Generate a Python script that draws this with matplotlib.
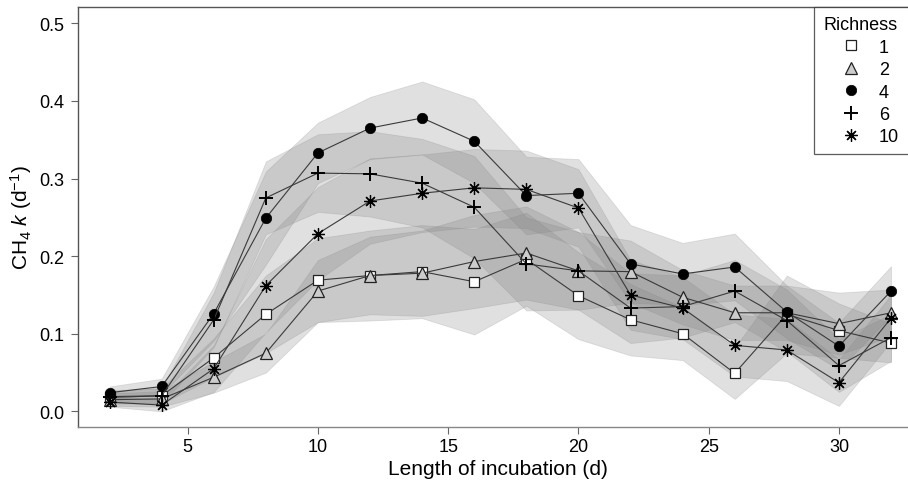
import numpy as np
import matplotlib
matplotlib.use("Agg")
import matplotlib.pyplot as plt
from matplotlib.lines import Line2D

plt.rcParams['font.family'] = ['Liberation Sans', 'DejaVu Sans']
plt.rcParams['mathtext.fontset'] = 'custom'
plt.rcParams['mathtext.rm'] = 'Liberation Sans'
plt.rcParams['mathtext.it'] = 'Liberation Sans:italic'

days = [2, 4, 6, 8, 10, 12, 14, 16, 18, 20, 22, 24, 26, 28, 30, 32]
richness_labels = ['1', '2', '4', '6', '10']

r1 = [0.018, 0.020, 0.069, 0.125, 0.169, 0.175, 0.180, 0.167, 0.196, 0.149, 0.118, 0.100, 0.049, 0.125, 0.104, 0.088]
r2 = [0.015, 0.016, 0.044, 0.075, 0.155, 0.175, 0.178, 0.193, 0.204, 0.181, 0.180, 0.147, 0.127, 0.127, 0.113, 0.127]
r4 = [0.024, 0.032, 0.126, 0.249, 0.333, 0.365, 0.378, 0.348, 0.278, 0.281, 0.190, 0.177, 0.186, 0.128, 0.084, 0.155]
r6 = [0.019, 0.020, 0.118, 0.275, 0.307, 0.306, 0.294, 0.263, 0.190, 0.181, 0.133, 0.135, 0.155, 0.117, 0.059, 0.095]
r10 = [0.012, 0.008, 0.055, 0.162, 0.229, 0.271, 0.281, 0.288, 0.286, 0.262, 0.150, 0.133, 0.085, 0.079, 0.037, 0.120]

# half-widths of the shaded error bands
hw1 = [0.008, 0.010, 0.025, 0.050, 0.054, 0.058, 0.060, 0.068, 0.060, 0.056, 0.046, 0.034, 0.033, 0.050, 0.035, 0.025]
hw2 = [0.008, 0.010, 0.020, 0.025, 0.040, 0.050, 0.055, 0.060, 0.060, 0.050, 0.040, 0.035, 0.035, 0.035, 0.040, 0.030]
hw4 = [0.008, 0.010, 0.035, 0.060, 0.039, 0.040, 0.047, 0.054, 0.050, 0.044, 0.050, 0.040, 0.043, 0.034, 0.030, 0.032]
hw6 = [0.008, 0.010, 0.035, 0.047, 0.050, 0.055, 0.057, 0.066, 0.060, 0.050, 0.045, 0.040, 0.040, 0.040, 0.034, 0.030]
hw10 = [0.006, 0.008, 0.030, 0.060, 0.060, 0.055, 0.050, 0.050, 0.050, 0.050, 0.045, 0.040, 0.040, 0.040, 0.030, 0.030]

series = [r1, r2, r4, r6, r10]
halfw = [hw1, hw2, hw4, hw6, hw10]
styles = [
    dict(marker='s', markersize=6.5, markerfacecolor='white', markeredgecolor='#222222', markeredgewidth=0.9),
    dict(marker='^', markersize=8.5, markerfacecolor='#cccccc', markeredgecolor='#222222', markeredgewidth=0.9),
    dict(marker='o', markersize=7.5, markerfacecolor='black', markeredgecolor='black', markeredgewidth=0.5),
    dict(marker='+', markersize=10, markeredgecolor='black', markeredgewidth=1.4),
    dict(marker=(8, 2, 0), markersize=9, markeredgecolor='black', markeredgewidth=0.9),
]

fig = plt.figure(figsize=(9.08, 4.81), dpi=100)
ax = fig.add_axes([78.3 / 908, 1 - 427.7 / 481, 1 - 78.3 / 908 + 0.01, (427.7 - 8.3) / 481])

x = np.array(days)
for vals, hw in zip(series, halfw):
    v = np.array(vals)
    h = np.array(hw)
    ax.fill_between(x, v - h, v + h, facecolor='#808080', alpha=0.24,
                    edgecolor='#8a8a8a', linewidth=0.6, zorder=1)

for vals, st in zip(series, styles):
    ax.plot(x, vals, color='#3a3a3a', linewidth=0.8, zorder=3, **st)

ax.set_xlim(0.8, 33.0)
ax.set_ylim(-0.0198, 0.5206)
ax.set_xticks([5, 10, 15, 20, 25, 30])
ax.set_yticks([0.0, 0.1, 0.2, 0.3, 0.4, 0.5])
ax.set_yticklabels(['0.0', '0.1', '0.2', '0.3', '0.4', '0.5'])
ax.tick_params(axis='both', direction='out', length=5, width=0.8, color='#666666',
               labelsize=13, pad=3)
ax.tick_params(axis='y', pad=5)
for side in ['left', 'top']:
    ax.spines[side].set_color('#555555')
    ax.spines[side].set_linewidth(1.0)
ax.spines['bottom'].set_color('#888888')
ax.spines['bottom'].set_linewidth(1.0)
ax.spines['right'].set_visible(False)

ax.set_xlabel('Length of incubation (d)', fontsize=15, labelpad=3)
ax.set_ylabel(r'CH$_4$ $k$ (d$^{-1}$)', fontsize=15, labelpad=4)

handles = [Line2D([], [], linestyle='none', **st) for st in styles]
leg = fig.legend(handles, richness_labels, title='Richness', loc='upper left',
                 bbox_to_anchor=(814 / 908, 0, 100 / 908, 1 - 8.3 / 481),
                 mode='expand', frameon=True,
                 fancybox=False, fontsize=13, title_fontsize=13,
                 borderaxespad=0, handletextpad=0.0, labelspacing=0.3,
                 borderpad=0.5, handlelength=3.1)
leg.get_frame().set_edgecolor('#333333')
leg.get_frame().set_linewidth(0.9)
leg._legend_box.align = 'left'

fig.savefig('out.png', dpi=100)
